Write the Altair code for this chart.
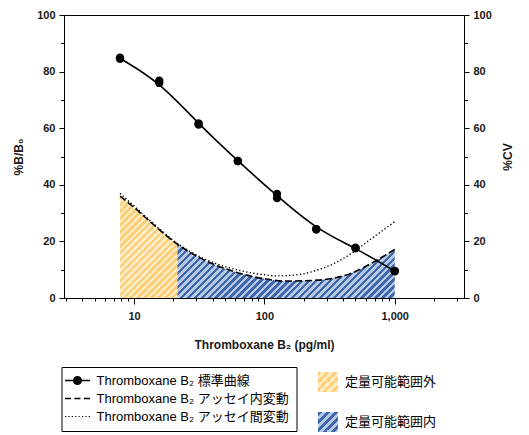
import altair as alt
import pandas as pd

# ---------------- data ----------------
conc = [7.8, 15.6, 31.25, 62.5, 125, 250, 500, 1000]
bb0_rep1 = [84.9, 76.8, 61.3, 48.4, 36.8, 24.3, 17.8, 9.6]
bb0_rep2 = [84.5, 76.0, 61.7, 48.4, 35.3, 24.3, 17.6, 9.4]

intra_conc = [7.8, 10, 13.5, 21.5, 32.6, 58.7, 100, 142, 256, 460, 695, 1000]
intra_cv = [36.0, 32.0, 26.7, 19.0, 14.0, 9.3, 6.8, 6.0, 6.3, 8.7, 12.8, 17.2]

inter_conc = [7.8, 10, 13.5, 21.5, 32.6, 58.7, 79, 100, 126, 191, 256, 343, 460, 617, 1000]
inter_cv = [37.0, 32.5, 27.0, 19.3, 14.4, 10.2, 8.9, 8.2, 7.8, 8.4, 9.9, 12.2, 15.6, 19.9, 27.0]

loq_limit = 21.5

series_labels = [
    "Thromboxane B\u2082 標準曲線",
    "Thromboxane B\u2082 アッセイ内変動",
    "Thromboxane B\u2082 アッセイ間変動",
]
region_labels = ["定量可能範囲外", "定量可能範囲内"]

x_tick_values = [3, 4, 5, 6, 7, 8, 9, 10, 20, 30, 40, 50, 60, 70, 80, 90,
                 100, 200, 300, 400, 500, 600, 700, 800, 900, 1000, 2000, 3000]
x_label_values = [10, 100, 1000]
y_tick_values = [0, 10, 20, 30, 40, 50, 60, 70, 80, 90, 100]

# ---------------- tables ----------------
pts = pd.DataFrame({"conc": conc + conc, "bb0": bb0_rep1 + bb0_rep2})
curve = pd.DataFrame({"conc": conc, "bb0": [(a + b) / 2 for a, b in zip(bb0_rep1, bb0_rep2)]})
intra = pd.DataFrame({"conc": intra_conc, "cv": intra_cv})
inter = pd.DataFrame({"conc": inter_conc, "cv": inter_cv})
outside = intra[intra["conc"] <= loq_limit]
inside = intra[intra["conc"] >= loq_limit]
legend1_df = pd.DataFrame({"series": series_labels})
legend2_df = pd.DataFrame({"region": region_labels})

# ---------------- styles ----------------
FONT = "Liberation Sans, Arial, Noto Sans CJK JP, DejaVu Sans"
TXT = "#1a1a1a"
Y_DARK, Y_LIGHT = "#fbcf78", "#fdebc4"
B_DARK, B_LIGHT = "#3d66ab", "#b8c9e5"


def stripe_stops(n, dark, light):
    out = []
    for i in range(n):
        a, b, c = i / n, (i + 0.5) / n, (i + 1) / n
        out += [(a, dark), (b, dark), (b, light), (c, light)]
    return [(round(o, 4), col) for o, col in out]


def grad(n, dark, light, x2, y2):
    return alt.LinearGradient(
        gradient="linear", x1=0, y1=0, x2=x2, y2=y2,
        stops=[alt.GradientStop(offset=o, color=c) for o, c in stripe_stops(n, dark, light)],
    )


def grad_expr(n, dark, light):
    s = ",".join("{offset:%s,color:'%s'}" % (o, c) for o, c in stripe_stops(n, dark, light))
    return "{gradient:'linear',x1:0,y1:0,x2:1,y2:1,stops:[%s]}" % s


x_scale = alt.Scale(type="log", domain=[2.9, 3400], nice=False)
label_test = "indexof([10,100,1000], datum.value) >= 0"
x_axis = alt.Axis(
    values=x_tick_values,
    labelExpr=f"{label_test} ? format(datum.value, ',') : ''",
    title="Thromboxane B\u2082 (pg/ml)",
    tickSize={"condition": {"test": label_test, "value": 6}, "value": 3},
    labelOverlap=False, labelFlush=False, grid=False,
    labelFont=FONT, labelFontSize=11, labelFontWeight="bold", labelColor=TXT,
    titleFont=FONT, titleFontSize=12, titleFontWeight="bold", titleColor=TXT,
    labelPadding=6, titlePadding=18, domainColor="black", tickColor="black",
)
X = alt.X("conc:Q", scale=x_scale, axis=x_axis)

y_common = dict(
    values=y_tick_values,
    labelExpr="datum.value % 20 == 0 ? datum.label : ''",
    tickSize={"condition": {"test": "datum.value % 20 == 0", "value": 5}, "value": 3.5},
    grid=False, labelOverlap=False, labelFlush=False,
    labelFont=FONT, labelFontSize=11, labelFontWeight="bold", labelColor=TXT,
    titleFont=FONT, titleFontSize=12, titleFontWeight="bold", titleColor=TXT,
    labelPadding=4, titlePadding=11, domainColor="black", tickColor="black",
)
Y_left = alt.Y("bb0:Q", scale=alt.Scale(domain=[0, 100], nice=False),
               axis=alt.Axis(title="%B/B\u2080", orient="left", **y_common))
Y_right = alt.Y("cv:Q", scale=alt.Scale(domain=[0, 100], nice=False),
                axis=alt.Axis(title="%CV", orient="right", titleAngle=270,
                              titleBaseline="top", **y_common))

# ---------------- layers ----------------
area_out = alt.Chart(outside).mark_area(
    interpolate="monotone", fill=grad(23, Y_DARK, Y_LIGHT, 0.6686, 1.1867)
).encode(x=X, y=Y_right)
area_in = alt.Chart(inside).mark_area(
    interpolate="monotone", fill=grad(39, B_DARK, B_LIGHT, 1.1755, 0.2910)
).encode(x=X, y=Y_right)
dotted = alt.Chart(inter).mark_line(
    color="black", strokeWidth=1.4, strokeDash=[1.3, 2.3], interpolate="monotone"
).encode(x=X, y=Y_right)
dashed = alt.Chart(intra).mark_line(
    color="black", strokeWidth=1.6, strokeDash=[7, 3], interpolate="monotone"
).encode(x=X, y=Y_right)

# legend symbols (custom paths: unit = 5 px)
path_std = ("M-2,-0.15H-0.4V0.15H-2Z M1.4,-0.15H3V0.15H1.4Z "
            "M1.4,0A0.9,0.9 0 1,1 -0.4,0A0.9,0.9 0 1,1 1.4,0Z")
path_dash = "M-2,-0.15H-0.8V0.15H-2Z M-0.1,-0.15H1.1V0.15H-0.1Z M1.8,-0.15H3V0.15H1.8Z"
path_dot = " ".join("M%.2f,-0.12h0.24v0.24h-0.24Z" % (-2 + i * 0.68) for i in range(8))

leg1 = alt.Chart(legend1_df).transform_filter("false").mark_point(
    filled=True, color="black", opacity=1
).encode(
    shape=alt.Shape(
        "series:N",
        scale=alt.Scale(domain=series_labels, range=[path_std, path_dash, path_dot]),
        legend=alt.Legend(
            title=None, orient="none", legendX=-2.5, legendY=352,
            strokeColor="black", fillColor="white", padding=7, cornerRadius=0,
            symbolSize=100, symbolStrokeWidth=0, symbolFillColor="black",
            labelFont=FONT, labelFontSize=13, labelColor="black",
            labelOffset=15, rowPadding=4, labelLimit=500,
            labelExpr="datum.label + '\u3000\u3000\u3000\u2002'",
        ),
    )
)

leg2 = alt.Chart(legend2_df).transform_filter("false").mark_square(opacity=1).encode(
    fill=alt.Fill(
        "region:N",
        scale=alt.Scale(
            domain=region_labels,
            range=[{"expr": grad_expr(5, Y_DARK, Y_LIGHT)},
                   {"expr": grad_expr(5, B_DARK, B_LIGHT)}],
        ),
        legend=alt.Legend(
            title=None, orient="none", legendX=254, legendY=357, padding=0,
            symbolType="square", symbolSize=400, symbolStrokeWidth=0,
            labelFont=FONT, labelFontSize=13, labelColor="black",
            labelOffset=7, rowPadding=20, labelLimit=500,
        ),
    )
)

line_std = alt.Chart(curve).mark_line(
    color="black", strokeWidth=1.6, interpolate="basis"
).encode(x=X, y=Y_left)
pts_layer = alt.Chart(pts).mark_circle(color="black", size=70, opacity=1).encode(x=X, y=Y_left)

right = alt.layer(area_out, area_in, dotted, dashed, leg1, leg2)
left = alt.layer(line_std, pts_layer)

chart = (
    alt.layer(right, left)
    .resolve_scale(y="independent")
    .properties(width=400, height=283, background="white",
                padding={"left": 4, "top": 1, "right": 5, "bottom": 5})
    .configure_view(stroke="black", strokeWidth=1)
)

chart.save("out.html", embed_options={"renderer": "svg", "actions": False})
